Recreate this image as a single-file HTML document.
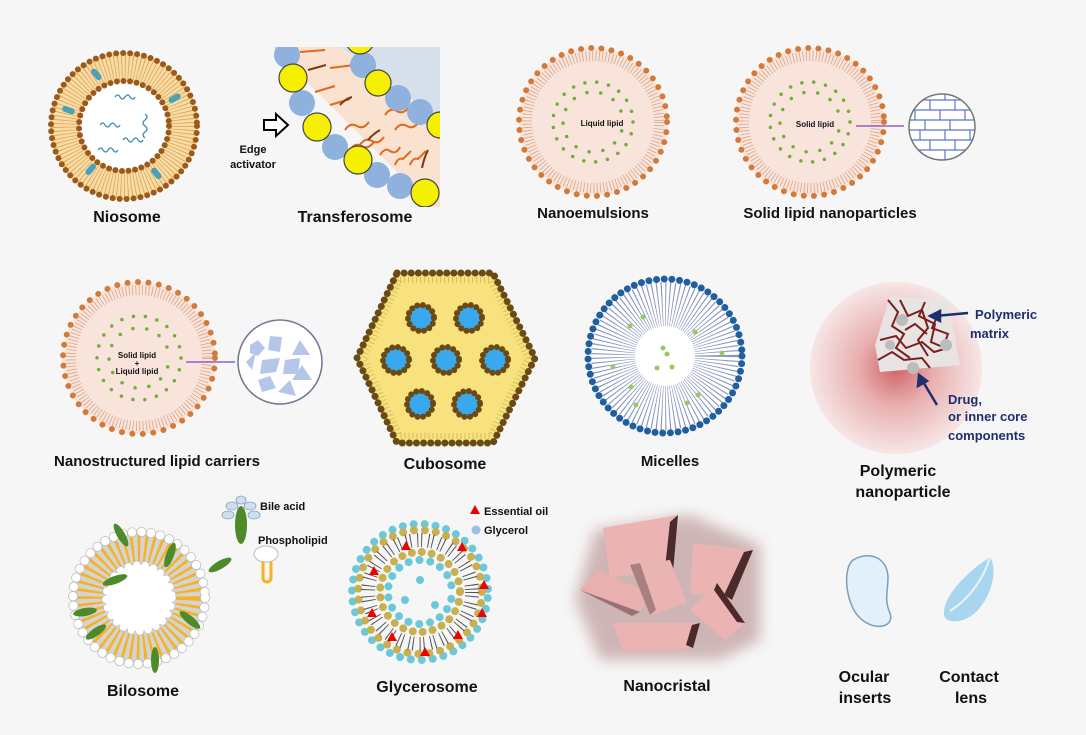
<!DOCTYPE html>
<html><head><meta charset="utf-8"><style>
html,body{margin:0;padding:0;background:#f6f6f6}
svg{display:block}
text{font-family:"Liberation Sans",sans-serif;font-weight:bold;fill:#111}
</style></head><body>
<svg width="1086" height="735" viewBox="0 0 1086 735" xmlns="http://www.w3.org/2000/svg">
<defs>
<radialGradient id="pg" cx="0.5" cy="0.5" r="0.5">
<stop offset="0" stop-color="#cf6468"/><stop offset="0.45" stop-color="#e9b0b0"/><stop offset="1" stop-color="#f6e6e6"/>
</radialGradient>
<clipPath id="tc"><rect x="273" y="47" width="167" height="160"/></clipPath>
<clipPath id="bc"><circle cx="942" cy="127" r="33"/></clipPath>
<filter id="bl"><feGaussianBlur stdDeviation="7"/></filter>
</defs>
<rect width="1086" height="735" fill="#f6f6f6"/>

<!-- Niosome -->
<g>
<circle cx="124" cy="126" r="59" fill="none" stroke="#f6dca6" stroke-width="30"/>
<circle cx="124" cy="126" r="59" fill="none" stroke="#e2a450" stroke-width="26" stroke-dasharray="0.8 2.6"/>
<circle cx="124" cy="126" r="73" fill="none" stroke="#9b5a1c" stroke-width="6" stroke-linecap="round" stroke-dasharray="0 7"/>
<circle cx="124" cy="126" r="45" fill="#fff" stroke="#9b5a1c" stroke-width="6" stroke-linecap="round" stroke-dasharray="0 6.6"/>
<g stroke="#3a8ab0" fill="none" stroke-width="1.3">
<path d="M115 97 q3 -4 5 0 q3 4 5 0 q3 -4 5 0 q3 4 5 0"/>
<path d="M100 125 q3 -4 5 0 q3 4 5 0 q3 -4 5 0 q3 4 5 0"/>
<path d="M145 114 q4 3 0 6 q-4 3 0 6 q4 3 0 6 q-4 3 0 6"/>
<path d="M98 150 q3 -4 5 0 q3 4 5 0 q3 -4 5 0 q3 4 5 0"/>
<path d="M123 140 q3 -4 5 0 q3 4 5 0 q3 -4 5 0 q3 4 5 0"/>
</g>
<g fill="#4aa0b8"><rect x="93" y="68" width="6" height="13" rx="3" transform="rotate(-40 96 74)"/><rect x="172" y="92" width="6" height="13" rx="3" transform="rotate(60 175 98)"/><rect x="65" y="104" width="6" height="13" rx="3" transform="rotate(-70 68 110)"/><rect x="88" y="163" width="6" height="13" rx="3" transform="rotate(40 91 169)"/><rect x="153" y="167" width="6" height="13" rx="3" transform="rotate(-40 156 173)"/></g>
<text x="127" y="222" font-size="16" text-anchor="middle">Niosome</text>
</g>

<!-- Transferosome -->
<g clip-path="url(#tc)">
<polygon points="340,47 440,47 440,120" fill="#d5e0ea"/>
<polygon points="273,47 340,47 440,125 440,207 432,207 273,48" fill="#f9e2d0"/>
<g stroke="#e2681e" stroke-width="2" fill="none">
<path d="M300 52 l25 -2"/><path d="M330 68 l25 -3"/><path d="M315 92 l20 -6"/><path d="M330 105 l20 -6"/><path d="M345 130 q5 -8 12 -4 q6 4 12 -4"/><path d="M360 145 q5 -8 12 -4 q6 4 12 -4"/><path d="M350 150 q5 -8 12 -4 q6 4 12 -4"/><path d="M385 115 q5 -8 12 -4 q6 4 12 -4"/><path d="M395 130 q5 -8 12 -4 q6 4 12 -4"/><path d="M380 155 q5 -8 10 -4 q6 4 10 -4"/><path d="M395 165 q3 -8 8 -6 q4 -4 8 -8"/><path d="M410 165 q3 -8 8 -6 q4 -4 8 -8"/>
</g>
<g stroke="#7a3a14" stroke-width="2" fill="none"><path d="M308 70 l18 -5"/><path d="M340 105 q5 -6 12 -8"/><path d="M368 140 q5 -6 12 -10"/><path d="M428 150 q-4 8 -6 18"/></g>
<g fill="#8fb1dd"><circle cx="287" cy="55" r="13"/><circle cx="302" cy="103" r="13"/><circle cx="335" cy="147" r="13"/><circle cx="377" cy="175" r="13"/><circle cx="400" cy="186" r="13"/><circle cx="363" cy="65" r="13"/><circle cx="398" cy="98" r="13"/><circle cx="420" cy="112" r="13"/></g>
<g fill="#f5f000" stroke="#444" stroke-width="1.2"><circle cx="293" cy="78" r="14"/><circle cx="317" cy="127" r="14"/><circle cx="358" cy="160" r="14"/><circle cx="425" cy="193" r="14"/><circle cx="360" cy="40" r="14"/><circle cx="378" cy="83" r="13"/><circle cx="440" cy="125" r="13"/></g>
</g>
<path d="M264 120 h12 v-6 l12 11 l-12 11 v-6 h-12 z" fill="#fff" stroke="#000" stroke-width="2"/>
<text x="253" y="153" font-size="11" text-anchor="middle">Edge</text>
<text x="253" y="168" font-size="11" text-anchor="middle">activator</text>
<text x="355" y="222" font-size="16" text-anchor="middle">Transferosome</text>

<!-- Nanoemulsions -->
<g>
<circle cx="593" cy="122" r="74" fill="#f8e4da"/>
<circle cx="593" cy="122" r="66" fill="none" stroke="#d8a58a" stroke-width="10" stroke-dasharray="0.8 2.5"/>
<circle cx="593" cy="122" r="74" fill="none" stroke="#d37a3a" stroke-width="6" stroke-linecap="round" stroke-dasharray="0 10.2"/>
<circle cx="593" cy="122" r="40" fill="none" stroke="#6fae3a" stroke-width="3.5" stroke-linecap="round" stroke-dasharray="0 12"/>
<circle cx="593" cy="122" r="30" fill="none" stroke="#6fae3a" stroke-width="3.5" stroke-linecap="round" stroke-dasharray="0 14" stroke-dashoffset="5"/>
<text x="602" y="126" font-size="8" text-anchor="middle">Liquid lipid</text>
<text x="593" y="218" font-size="15" text-anchor="middle">Nanoemulsions</text>
</g>

<!-- SLN -->
<g>
<circle cx="810" cy="122" r="74" fill="#f8e4da"/>
<circle cx="810" cy="122" r="66" fill="none" stroke="#d8a58a" stroke-width="10" stroke-dasharray="0.8 2.5"/>
<circle cx="810" cy="122" r="74" fill="none" stroke="#d37a3a" stroke-width="6" stroke-linecap="round" stroke-dasharray="0 10.2"/>
<circle cx="810" cy="122" r="40" fill="none" stroke="#6fae3a" stroke-width="3.5" stroke-linecap="round" stroke-dasharray="0 12"/>
<circle cx="810" cy="122" r="30" fill="none" stroke="#6fae3a" stroke-width="3.5" stroke-linecap="round" stroke-dasharray="0 14" stroke-dashoffset="5"/>
<text x="815" y="127" font-size="8" text-anchor="middle">Solid lipid</text>
<line x1="856" y1="126" x2="904" y2="126" stroke="#9a5ac8" stroke-width="1.5"/>
<circle cx="942" cy="127" r="33" fill="#fff"/>
<g clip-path="url(#bc)" stroke="#5a78c8" stroke-width="1.2">
<path d="M905 100h80M905 110h80M905 120h80M905 130h80M905 140h80M905 150h80M905 160h80"/>
<path d="M920 90v10M945 90v10M930 100v10M955 100v10M915 110v10M940 110v10M965 110v10M925 120v10M950 120v10M975 120v10M920 130v10M945 130v10M970 130v10M930 140v10M955 140v10M920 150v10M945 150v10"/>
</g>
<circle cx="942" cy="127" r="33" fill="none" stroke="#777" stroke-width="1.5"/>
<text x="830" y="218" font-size="15" text-anchor="middle">Solid lipid nanoparticles</text>
</g>

<!-- NLC -->
<g>
<circle cx="139" cy="358" r="76" fill="#f8e4da"/>
<circle cx="139" cy="358" r="68" fill="none" stroke="#d8a58a" stroke-width="10" stroke-dasharray="0.8 2.5"/>
<circle cx="139" cy="358" r="76" fill="none" stroke="#d37a3a" stroke-width="6" stroke-linecap="round" stroke-dasharray="0 10.5"/>
<circle cx="139" cy="358" r="42" fill="none" stroke="#6fae3a" stroke-width="3.5" stroke-linecap="round" stroke-dasharray="0 12"/>
<circle cx="139" cy="358" r="30" fill="none" stroke="#6fae3a" stroke-width="3.5" stroke-linecap="round" stroke-dasharray="0 14" stroke-dashoffset="5"/>
<text x="137" y="358" font-size="8" text-anchor="middle">Solid lipid</text>
<text x="137" y="366" font-size="8" text-anchor="middle">+</text>
<text x="137" y="374" font-size="8" text-anchor="middle">Liquid lipid</text>
<line x1="186" y1="362" x2="235" y2="362" stroke="#9a5ac8" stroke-width="1.5"/>
<circle cx="280" cy="362" r="42" fill="#fff" stroke="#707590" stroke-width="1.5"/>
<g fill="#b5c6e8"><polygon points="250,345 258,340 265,348 258,356 250,353"/><polygon points="270,336 282,337 280,352 268,350"/><polygon points="300,340 310,355 292,355"/><polygon points="262,360 280,358 276,372 260,374"/><polygon points="285,360 300,358 298,374 283,374"/><polygon points="302,365 312,380 292,380"/><polygon points="258,380 270,376 276,388 262,392"/><polygon points="278,392 290,380 296,396"/><polygon points="246,362 256,352 252,370"/></g>
<text x="157" y="466" font-size="15" text-anchor="middle">Nanostructured lipid carriers</text>
</g>

<!-- Cubosome -->
<g>
<polygon points="397,273 493,273 535,358 493,443 397,443 357,358" fill="#f7e27e" stroke="#6a4a14" stroke-width="7" stroke-linejoin="round" stroke-dasharray="0.1 7" stroke-linecap="round"/>
<polygon points="400,280 490,280 528,358 490,436 400,436 364,358" fill="none" stroke="#d8c060" stroke-width="6" stroke-dasharray="1 3"/>
<g fill="#3aa8ee" stroke="#6a4a14" stroke-width="6" stroke-dasharray="0.1 5.6" stroke-linecap="round">
<circle cx="421" cy="318" r="13"/><circle cx="469" cy="318" r="13"/><circle cx="396" cy="360" r="13"/><circle cx="446" cy="360" r="13"/><circle cx="495" cy="360" r="13"/><circle cx="420" cy="404" r="13"/><circle cx="467" cy="404" r="13"/>
</g>
<text x="445" y="469" font-size="16" text-anchor="middle">Cubosome</text>
</g>

<!-- Micelles -->
<g>
<circle cx="665" cy="356" r="74" fill="#fff"/>
<circle cx="665" cy="356" r="52" fill="none" stroke="#8a96c0" stroke-width="44" stroke-dasharray="0.9 2.6"/>
<circle cx="665" cy="356" r="28" fill="#fff"/>
<circle cx="665" cy="356" r="77" fill="none" stroke="#1f5fa0" stroke-width="7" stroke-linecap="round" stroke-dasharray="0 7.7"/>
<g fill="#9ac860"><circle cx="663" cy="348" r="2.5"/><circle cx="667" cy="354" r="2.5"/><circle cx="657" cy="368" r="2.5"/><circle cx="672" cy="367" r="2.5"/><circle cx="630" cy="326" r="2.5"/><circle cx="643" cy="317" r="2.5"/><circle cx="695" cy="332" r="2.5"/><circle cx="722" cy="353" r="2.5"/><circle cx="613" cy="367" r="2.5"/><circle cx="631" cy="387" r="2.5"/><circle cx="698" cy="395" r="2.5"/><circle cx="636" cy="405" r="2.5"/><circle cx="687" cy="403" r="2.5"/></g>
<text x="670" y="466" font-size="15" text-anchor="middle">Micelles</text>
</g>

<!-- Polymeric -->
<g>
<circle cx="896" cy="368" r="86" fill="url(#pg)"/>
<polygon points="890,296 948,300 960,365 880,372 875,345" fill="#e8e4e4"/>
<g stroke="#7a1e1e" stroke-width="2" fill="none">
<path d="M888 300 l10 12 l-6 14 l12 8 l-8 14 l14 10"/><path d="M900 300 l8 16 l14 -6 l6 18 l-10 12 l10 16"/><path d="M925 302 l-6 14 l16 8 l-4 18 l14 6"/><path d="M880 340 l16 -4 l10 12 l16 -6 l12 10 l14 -4"/><path d="M878 360 l14 -8 l12 8 l18 -2 l8 10"/><path d="M940 310 l-8 18 l16 6 l-6 16"/><path d="M905 330 l10 -6 l12 10"/>
</g>
<g fill="#bcbcbc"><circle cx="902" cy="320" r="6"/><circle cx="946" cy="345" r="6"/><circle cx="913" cy="368" r="6"/><circle cx="890" cy="345" r="5"/></g>
<g stroke="#1e2e6e" stroke-width="2.5" fill="#1e2e6e"><line x1="968" y1="313" x2="935" y2="316"/><polygon points="930,316 940,311 940,321"/><line x1="937" y1="405" x2="922" y2="380"/><polygon points="919,375 927,381 918,386"/></g>
<g font-size="13"><text x="975" y="319" style="fill:#1e2e6e">Polymeric</text><text x="970" y="338" style="fill:#1e2e6e">matrix</text><text x="948" y="404" style="fill:#1e2e6e">Drug,</text><text x="948" y="421" style="fill:#1e2e6e">or inner core</text><text x="948" y="440" style="fill:#1e2e6e">components</text></g>
<text x="898" y="476" font-size="16" text-anchor="middle">Polymeric</text>
<text x="903" y="497" font-size="16" text-anchor="middle">nanoparticle</text>
</g>

<!-- Bilosome -->
<g>
<circle cx="139" cy="598" r="50" fill="none" stroke="#d4d4d4" stroke-width="30"/>
<circle cx="139" cy="598" r="50" fill="none" stroke="#f5b323" stroke-width="26" stroke-dasharray="2.5 4"/>
<circle cx="139" cy="598" r="66" fill="none" stroke="#bbb" stroke-width="10" stroke-linecap="round" stroke-dasharray="0 9.5"/>
<circle cx="139" cy="598" r="66" fill="none" stroke="#fff" stroke-width="8.5" stroke-linecap="round" stroke-dasharray="0 9.5"/>
<circle cx="139" cy="598" r="33" fill="#fff" stroke="#bbb" stroke-width="9" stroke-linecap="round" stroke-dasharray="0 8.5"/>
<circle cx="139" cy="598" r="33" fill="#fff" stroke="#fff" stroke-width="7.5" stroke-linecap="round" stroke-dasharray="0 8.5"/>
<g fill="#4e8a2a"><ellipse cx="121" cy="535" rx="4" ry="13" transform="rotate(-30 121 535)"/><ellipse cx="170" cy="555" rx="4" ry="13" transform="rotate(20 170 555)"/><ellipse cx="115" cy="580" rx="4" ry="13" transform="rotate(70 115 580)"/><ellipse cx="220" cy="565" rx="4" ry="13" transform="rotate(60 220 565)"/><ellipse cx="85" cy="612" rx="4" ry="12" transform="rotate(80 85 612)"/><ellipse cx="190" cy="620" rx="4" ry="13" transform="rotate(-50 190 620)"/><ellipse cx="96" cy="632" rx="4" ry="12" transform="rotate(55 96 632)"/><ellipse cx="155" cy="660" rx="4" ry="13"/></g>
<ellipse cx="241" cy="525" rx="6" ry="19" fill="#4e8a2a"/>
<g fill="#cde0f0" stroke="#8aa0b8" stroke-width="0.8"><ellipse cx="232" cy="506" rx="6" ry="4"/><ellipse cx="250" cy="506" rx="6" ry="4"/><ellipse cx="228" cy="515" rx="6" ry="4"/><ellipse cx="254" cy="515" rx="6" ry="4"/><ellipse cx="241" cy="500" rx="5" ry="4"/></g>
<ellipse cx="266" cy="554" rx="12" ry="8" fill="#fff" stroke="#bbb"/>
<path d="M263 562 v16 a4 4 0 0 0 8 0 v-16" fill="none" stroke="#f5b323" stroke-width="3"/>
<text x="260" y="510" font-size="11">Bile acid</text>
<text x="258" y="544" font-size="11">Phospholipid</text>
<text x="143" y="696" font-size="16" text-anchor="middle">Bilosome</text>
</g>

<!-- Glycerosome -->
<g>
<circle cx="420" cy="592" r="68" fill="none" stroke="#6ac8d8" stroke-width="8" stroke-linecap="round" stroke-dasharray="0 11" stroke-dashoffset="5"/>
<circle cx="420" cy="592" r="62" fill="none" stroke="#c8b050" stroke-width="8" stroke-linecap="round" stroke-dasharray="0 11"/>
<circle cx="420" cy="592" r="52" fill="none" stroke="#555" stroke-width="14" stroke-dasharray="1 3 1 6"/>
<circle cx="420" cy="592" r="40" fill="none" stroke="#c8b050" stroke-width="8" stroke-linecap="round" stroke-dasharray="0 10"/>
<circle cx="420" cy="592" r="32" fill="none" stroke="#6ac8d8" stroke-width="8" stroke-linecap="round" stroke-dasharray="0 11" stroke-dashoffset="4"/>
<g fill="#6ac8d8"><circle cx="420" cy="580" r="4"/><circle cx="405" cy="600" r="4"/><circle cx="435" cy="605" r="4"/></g>
<g fill="#e00"><polygon points="406,541 411,550 401,550"/><polygon points="462,542 467,551 457,551"/><polygon points="374,566 379,575 369,575"/><polygon points="484,580 489,589 479,589"/><polygon points="372,608 377,617 367,617"/><polygon points="482,608 487,617 477,617"/><polygon points="392,632 397,641 387,641"/><polygon points="458,630 463,639 453,639"/><polygon points="425,647 430,656 420,656"/><polygon points="475,505 480,514 470,514"/></g>
<circle cx="476" cy="530" r="4.5" fill="#9cc0e4"/>
<text x="484" y="515" font-size="11">Essential oil</text>
<text x="484" y="534" font-size="11">Glycerol</text>
<text x="427" y="692" font-size="16" text-anchor="middle">Glycerosome</text>
</g>

<!-- Nanocristal -->
<g>
<polygon points="595,530 690,515 760,545 760,640 720,660 600,660 575,600" fill="#b58a8a" filter="url(#bl)" opacity="0.6"/>
<polygon points="603,528 678,515 673,572 610,577" fill="#ebb3b2"/><polygon points="678,515 673,572 665,568 670,522" fill="#4a2a2a"/>
<polygon points="693,543 753,550 732,600 690,593" fill="#ebb3b2"/><polygon points="753,550 732,600 724,595 744,552" fill="#4a2a2a"/>
<polygon points="580,590 597,570 650,593 640,612" fill="#e8b0ae"/><polygon points="580,590 640,612 632,616" fill="#9a7070"/>
<polygon points="630,565 670,560 687,603 650,615" fill="#eab4b2"/><polygon points="630,565 640,563 656,610 650,615" fill="#a88080"/>
<polygon points="690,610 717,583 745,623 725,640" fill="#ebb3b2"/><polygon points="717,583 745,623 737,622 714,590" fill="#4a2a2a"/>
<polygon points="613,623 700,623 693,648 623,652" fill="#ebb3b2"/><polygon points="700,623 693,648 686,645 692,625" fill="#4a2a2a"/>
<text x="667" y="691" font-size="16" text-anchor="middle">Nanocristal</text>
</g>

<!-- Ocular inserts / contact lens -->
<g>
<path d="M853 560 c17 -10 35 -2 35 18 c0 13 -4 22 2 35 c5 16 -18 18 -31 4 c-13 -13 -17 -48 -6 -57z" fill="#e3effa" stroke="#7aa0b8" stroke-width="1.5"/>
<path d="M990 557 c7 10 4 36 -13 54 c-13 13 -31 13 -33 4 c-2 -13 13 -36 46 -58z" fill="#a8d6ee"/>
<path d="M990 557 c-5 18 -18 40 -40 54" stroke="#e6f4fb" stroke-width="2" fill="none"/>
<text x="864" y="682" font-size="16" text-anchor="middle">Ocular</text>
<text x="865" y="703" font-size="16" text-anchor="middle">inserts</text>
<text x="969" y="682" font-size="16" text-anchor="middle">Contact</text>
<text x="971" y="703" font-size="16" text-anchor="middle">lens</text>
</g>
</svg>
</body></html>
